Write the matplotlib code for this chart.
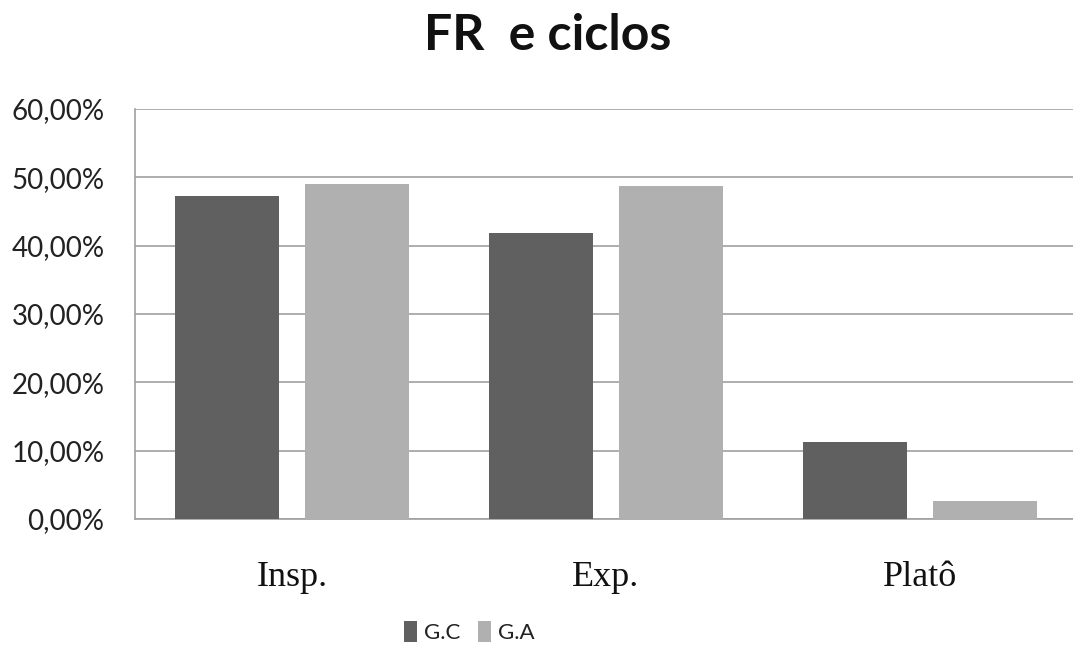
import numpy as np
import matplotlib
matplotlib.use('Agg')
import matplotlib.pyplot as plt
import matplotlib.ticker as ticker

categorias = ['Insp.', 'Exp.', 'Platô']
grupo_gc = [47.2, 41.9, 11.2]
grupo_ga = [49.0, 48.7, 2.6]
series = ['G.C', 'G.A']

plt.rcParams['font.family'] = ['Lato', 'DejaVu Sans']

fig = plt.figure(figsize=(10.73, 6.49), dpi=100)
ax = fig.add_axes([0.1258, 0.2003, 0.878, 0.6317])

x = np.arange(len(categorias))
largura = 0.331
desloc = 0.207
ax.bar(x - desloc, grupo_gc, width=largura, color='#606060', label=series[0], zorder=3)
ax.bar(x + desloc, grupo_ga, width=largura, color='#b0b0b0', label=series[1], zorder=3)

ax.set_xlim(-0.5, len(categorias) - 0.5)
ax.set_ylim(0, 60)
ax.set_yticks(np.arange(0, 61, 10))
ax.yaxis.set_major_formatter(ticker.FuncFormatter(lambda v, pos: f'{v:.2f}%'.replace('.', ',')))
ax.grid(axis='y', color='#a0a0a0', linewidth=1.2, zorder=0)
ax.set_axisbelow(True)

for lado in ['top', 'right']:
    ax.spines[lado].set_visible(False)
ax.spines['left'].set_color('#a0a0a0')
ax.spines['bottom'].set_color('#a0a0a0')
ax.spines['left'].set_linewidth(1.2)
ax.spines['bottom'].set_linewidth(1.2)

ax.tick_params(axis='y', length=0, pad=22, labelsize=20, labelcolor='#222222')
ax.tick_params(axis='x', length=0, pad=30)
ax.set_xticks(x)
ax.set_xticklabels(categorias, fontsize=26, family='Liberation Serif', color='#111111')

fig.text(0.51, 0.923, 'FR  e ciclos', ha='center', va='baseline',
         fontsize=36, fontweight='bold', color='#111111')

fig.legend(loc='center', bbox_to_anchor=(0.437, 0.026), ncol=2, frameon=False,
           fontsize=16, handlelength=0.6, handleheight=1.1, handletextpad=0.3,
           columnspacing=0.8, labelcolor='#222222')

fig.savefig('out.png', dpi=100)
